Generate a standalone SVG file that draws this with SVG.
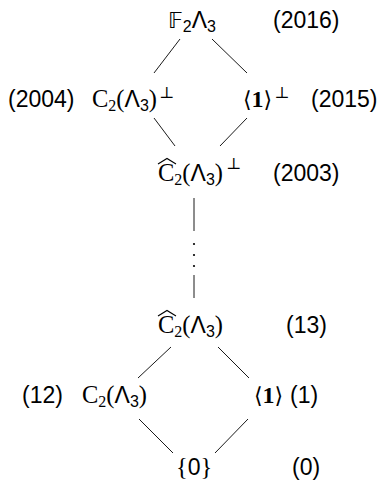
<svg xmlns="http://www.w3.org/2000/svg" width="381" height="486" viewBox="0 0 381 486">
<style>
.m{font-family:"Liberation Serif","DejaVu Serif",serif;font-size:24.5px}
.s{font-family:"Liberation Sans","DejaVu Sans",sans-serif;font-size:23px}
.d{font-family:"DejaVu Sans",sans-serif;font-size:22px}
.b{font-family:"Liberation Serif","DejaVu Serif",serif;font-size:24px;font-weight:bold}
.sub{font-size:16px}
.sup{font-family:"DejaVu Serif","DejaVu Sans",serif;font-size:16px;fill:#000}
.e{stroke:#000;stroke-width:0.9;fill:none}
.hat{stroke:#000;stroke-width:1.1;fill:none}
text{fill:#000}
</style>
<rect width="381" height="486" fill="#fff"/>
<g id="connectors">
<line class="e" x1="180" y1="39" x2="154" y2="73"/>
<line class="e" x1="212" y1="39" x2="247" y2="73"/>
<line class="e" x1="154" y1="118" x2="175" y2="146"/>
<line class="e" x1="247" y1="118" x2="220" y2="146"/>
<line class="e" x1="194" y1="198" x2="194" y2="231"/>
<circle cx="194" cy="244" r="1.1"/>
<circle cx="194" cy="255" r="1.1"/>
<circle cx="194" cy="266" r="1.1"/>
<line class="e" x1="194" y1="275" x2="194" y2="298"/>
<line class="e" x1="171" y1="347" x2="138" y2="378"/>
<line class="e" x1="218" y1="347" x2="249" y2="378"/>
<line class="e" x1="139" y1="419" x2="173" y2="453"/>
<line class="e" x1="248" y1="419" x2="215" y2="453"/>
</g>
<g id="node-F2L3">
<text x="168" y="28"><tspan class="d">𝔽</tspan><tspan class="s sub" dy="4">2</tspan><tspan class="s" dy="-4">Λ</tspan><tspan class="s sub" dy="4">3</tspan></text>
<text class="s" x="273" y="28">(2016)</text>
</g>
<g id="node-C2perp">
<text class="s" x="8" y="107">(2004)</text>
<text x="92" y="107"><tspan class="m">C</tspan><tspan class="m sub" dy="4">2</tspan><tspan class="m" dy="-4">(</tspan><tspan class="s">Λ</tspan><tspan class="s sub" dy="4">3</tspan><tspan class="m" dy="-4">)</tspan><tspan class="sup" dx="2" dy="-9">⊥</tspan></text>
</g>
<g id="node-1perp">
<text x="243" y="107"><tspan class="d">⟨</tspan><tspan class="b">1</tspan><tspan class="d">⟩</tspan><tspan class="sup" dx="2" dy="-9">⊥</tspan></text>
<text class="s" x="311" y="107">(2015)</text>
</g>
<g id="node-hatC2perp">
<path class="hat" d="M158,164 L167,158.5 L176,164"/>
<text x="158" y="181"><tspan class="m">C</tspan><tspan class="m sub" dy="4">2</tspan><tspan class="m" dy="-4">(</tspan><tspan class="s">Λ</tspan><tspan class="s sub" dy="4">3</tspan><tspan class="m" dy="-4">)</tspan><tspan class="sup" dx="3" dy="-12">⊥</tspan></text>
<text class="s" x="273" y="181">(2003)</text>
</g>
<g id="node-hatC2">
<path class="hat" d="M158,316 L167,310.5 L176,316"/>
<text x="158" y="333"><tspan class="m">C</tspan><tspan class="m sub" dy="4">2</tspan><tspan class="m" dy="-4">(</tspan><tspan class="s">Λ</tspan><tspan class="s sub" dy="4">3</tspan><tspan class="m" dy="-4">)</tspan></text>
<text class="s" x="286" y="333">(13)</text>
</g>
<g id="node-C2">
<text class="s" x="22" y="403">(12)</text>
<text x="82" y="403"><tspan class="m">C</tspan><tspan class="m sub" dy="4">2</tspan><tspan class="m" dy="-4">(</tspan><tspan class="s">Λ</tspan><tspan class="s sub" dy="4">3</tspan><tspan class="m" dy="-4">)</tspan></text>
</g>
<g id="node-1">
<text x="254" y="403"><tspan class="d">⟨</tspan><tspan class="b">1</tspan><tspan class="d">⟩</tspan></text>
<text class="s" x="290" y="403">(1)</text>
</g>
<g id="node-0">
<text x="176" y="475"><tspan class="m">{</tspan><tspan class="s">0</tspan><tspan class="m">}</tspan></text>
<text class="s" x="292" y="475">(0)</text>
</g>
</svg>
